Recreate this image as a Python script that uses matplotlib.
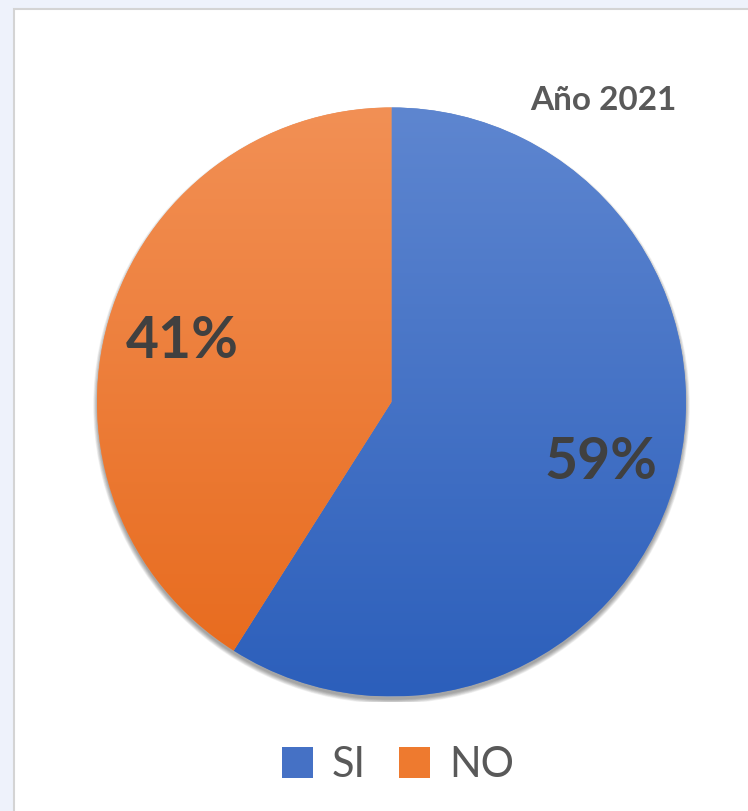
import numpy as np
import matplotlib.pyplot as plt
from matplotlib.patches import Rectangle, Circle
from matplotlib.colors import LinearSegmentedColormap

# Data
labels = ['SI', 'NO']
values = [59, 41]
title = 'Año 2021'

# Office-like gradients (top light -> bottom dark)
grad_colors = {
    'SI': ('#5E86D0', '#2C5FBB'),
    'NO': ('#F29055', '#E7691B'),
}
legend_colors = ['#4571C5', '#EE7A2F']

W, H = 748, 811
fig = plt.figure(figsize=(W / 100, H / 100), dpi=100)
fig.patch.set_facecolor('#EEF2FB')

# white chart panel with a light frame on the left/top (right/bottom run off the image)
panel = Rectangle((14 / W, -0.02), 1.05, (H - 9) / H + 0.02, transform=fig.transFigure,
                  facecolor='white', edgecolor='#D4D4D4', linewidth=1.5, zorder=-1)
fig.patches.append(panel)

R = 294.5
cx, cy = 391.5, 402  # pixel centre of the pie (from top-left)
half = 300
ax = fig.add_axes([(cx - half) / W, (H - cy - half) / H, 2 * half / W, 2 * half / H])
ax.set_zorder(2)

# soft shadow, mostly below the pie
for i in range(8, 0, -1):
    ax.add_patch(Circle((0, -3.5), R - 1 + i * 0.6, facecolor='black',
                        alpha=0.05, edgecolor='none', zorder=1))

wedges, texts, autotexts = ax.pie(
    values, labels=None, startangle=90, counterclock=False, radius=R,
    autopct=lambda p: f'{p:.0f}%', pctdistance=0.74,
    textprops=dict(color='#404040', fontsize=41, fontweight='bold', family='Lato'),
    wedgeprops=dict(linewidth=0, zorder=2))
ax.set_xlim(-half, half)
ax.set_ylim(-half, half)
ax.axis('off')

for w, lab in zip(wedges, labels):
    top, bot = grad_colors[lab]
    cmap = LinearSegmentedColormap.from_list(lab, [bot, top])
    grad = np.linspace(0, 1, 256).reshape(-1, 1)
    im = ax.imshow(grad, cmap=cmap, origin='lower', extent=[-R, R, -R, R],
                   aspect='auto', zorder=3)
    im.set_clip_path(w)
    w.set_facecolor(top)

ax.set_xlim(-half, half)
ax.set_ylim(-half, half)
for t in autotexts:
    t.set_zorder(5)

fig.text(603 / W, 1 - 100 / H, title, ha='center', va='center',
         fontsize=24, fontweight='bold', color='#595959', family='Lato')

# legend
handles = [Rectangle((0, 0), 1, 1, facecolor=c) for c in legend_colors]
fig.legend(handles, labels, loc='center', bbox_to_anchor=(398 / W, 1 - 765 / H),
           ncol=2, frameon=False, handlelength=0.75, handleheight=0.75,
           handletextpad=0.45, columnspacing=0.8,
           prop=dict(family='Lato', size=30), labelcolor='#595959')

fig.savefig('out.png', dpi=100, facecolor=fig.get_facecolor())
